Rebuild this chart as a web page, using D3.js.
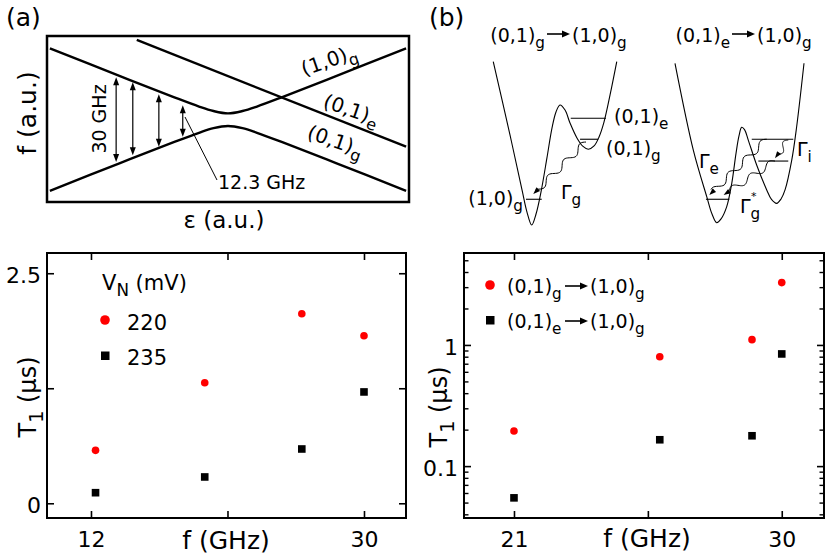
<!DOCTYPE html>
<html>
<head>
<meta charset="utf-8">
<script src="https://cdn.jsdelivr.net/npm/d3@7"></script>
<style>
body { margin: 0; background: #fff; }
svg text { font-family: "DejaVu Sans", "Liberation Sans", Arial, sans-serif; fill: #000; }
</style>
</head>
<body>
<div id="fig"></div>
<script>
// ---------- data ----------
// (a) level diagram, arbitrary units (eps 0..10, f 0..10)
var upperBranch = [[0.08,9.25],[2,7.60],[3.5,6.32],[4.2,5.75],[4.6,5.48],[5.0,5.34],[5.4,5.48],[5.8,5.75],[6.5,6.32],[8,7.60],[9.92,9.25]];
var lowerBranch = [[0.08,0.67],[2,2.33],[3.5,3.60],[4.2,4.17],[4.6,4.45],[5.0,4.58],[5.4,4.45],[5.8,4.17],[6.5,3.60],[8,2.33],[9.92,0.67]];
var excitedLine = [[2.48,9.76],[9.92,3.33]];
// gap arrows: eps, lower f, upper f
var gapArrows = [[1.91,2.41,7.51],[2.37,2.81,7.21],[3.09,3.33,6.49],[3.75,3.93,5.83]];

// (b) potentials, arbitrary units (x 0..10, energy 0..10)
var wellLeft = [[0.02,10.02],[1.37,5.55],[2.34,2.20],[2.74,0.85],[3.12,0.06],[3.47,0.73],[3.87,2.07],[4.35,4.15],[4.76,5.98],[5.08,6.95],[5.40,7.38],[5.81,7.07],[6.21,6.28],[6.77,5.37],[7.26,4.85],[7.69,4.68],[8.15,4.88],[8.55,5.43],[8.95,6.34],[9.44,7.99],[9.98,10.02]];
var levelsLeft = [[6.27,9.11,6.57],[7.02,8.49,5.29],[2.66,3.93,1.63]];
var decayLeft = [[7.5,5.12,3.25,1.95]];
var wellRight = [[0,9.92],[1.42,4.63],[2.46,1.79],[2.87,0.73],[3.23,0.20],[3.57,0.43],[4.01,1.18],[4.40,2.60],[4.73,4.43],[4.96,5.49],[5.17,6.02],[5.39,5.88],[5.68,5.24],[6.33,3.72],[7.11,2.20],[7.48,1.62],[7.88,1.38],[8.22,1.65],[8.53,2.20],[9.05,4.02],[9.43,6.05],[10,9.92]];
var levelsRight = [[5.95,9.17,5.29],[6.46,8.78,3.96],[2.40,4.21,1.63]];
var decayRight = [[7.11,5.29,2.66,1.89],[7.75,3.96,3.77,1.89],[8.78,5.24,7.75,4.13]];

// (c) T1 vs f, linear
var freqC = [12.3, 19.5, 25.9, 30];
var t1C220 = [0.575, 1.31, 2.06, 1.82];
var t1C235 = [0.115, 0.286, 0.59, 1.21];
var xTicksC = [12, 21, 30];
var yTicksC = [0, 1.25, 2.5];

// (d) T1 vs f, log
var freqD = [21, 25.9, 29.0, 30];
var t1Dg = [0.195, 0.80, 1.106, 3.27];
var t1De = [0.0547, 0.165, 0.178, 0.843];
var xTicksD = [21, 25.5, 30];
var yMajorD = [0.1, 1];
var yMinorD = [0.04,0.05,0.06,0.07,0.08,0.09,0.2,0.3,0.4,0.5,0.6,0.7,0.8,0.9,2,3,4,5];

var svg = d3.select("#fig").append("svg")
    .attr("width", 831)
    .attr("height", 557);

// ---------- helpers ----------
function rich(parent, parts, fs) {
    var t = parent.append("text").attr("font-size", fs);
    var shift = 0;
    parts.forEach(function(p) {
        var sub = p.charAt(0) === "_";
        var target = sub ? 0.3 * fs : 0;
        var ts = t.append("tspan").attr("dy", target - shift).text(sub ? p.slice(1) : p);
        if (sub) ts.attr("font-size", fs * 0.8);
        shift = target;
    });
    return t;
}

function head(g, tip, ux, uy, len, w) {
    var bx = tip[0] - ux * len, by = tip[1] - uy * len;
    g.append("path")
        .attr("d", "M" + tip[0] + "," + tip[1] +
            "L" + (bx - uy * w / 2) + "," + (by + ux * w / 2) +
            "L" + (bx + uy * w / 2) + "," + (by - ux * w / 2) + "Z")
        .attr("fill", "#000");
}

function straightArrow(g, x0, x1, y) {
    g.append("line").attr("x1", x0).attr("x2", x1 - 6).attr("y1", y).attr("y2", y)
        .attr("stroke", "#000").attr("stroke-width", 1.6);
    head(g, [x1, y], 1, 0, 8, 7);
}

function wavy(g, p0, p1, periods, amp) {
    var dx = p1[0] - p0[0], dy = p1[1] - p0[1], L = Math.hypot(dx, dy);
    var ux = dx / L, uy = dy / L, stop = (L - 5) / L;
    var pts = [];
    for (var i = 0; i <= 60; i++) {
        var t = i / 60 * stop;
        var s = amp * Math.sin(2 * Math.PI * periods * t / stop);
        pts.push([p0[0] + dx * t - uy * s, p0[1] + dy * t + ux * s]);
    }
    g.append("path").attr("d", d3.line()(pts))
        .attr("fill", "none").attr("stroke", "#000").attr("stroke-width", 1);
    head(g, p1, ux, uy, 7, 5);
}

// ---------- (a) ----------
var xA = d3.scaleLinear().domain([0, 10]).range([47, 409]);
var yA = d3.scaleLinear().domain([0, 10]).range([202, 36]);
var gA = svg.append("g");

gA.append("rect").attr("x", 47).attr("y", 36).attr("width", 362).attr("height", 166)
    .attr("fill", "none").attr("stroke", "#000").attr("stroke-width", 2.5);

var lineA = d3.line()
    .x(function(d) { return xA(d[0]); })
    .y(function(d) { return yA(d[1]); })
    .curve(d3.curveCatmullRom);

[upperBranch, lowerBranch, excitedLine].forEach(function(b) {
    gA.append("path").datum(b).attr("d", lineA)
        .attr("fill", "none").attr("stroke", "#000").attr("stroke-width", 2.4);
});

gapArrows.forEach(function(a) {
    var x = xA(a[0]), top = yA(a[2]), bot = yA(a[1]);
    gA.append("line").attr("x1", x).attr("x2", x).attr("y1", top + 5).attr("y2", bot - 5)
        .attr("stroke", "#000").attr("stroke-width", 1.2);
    head(gA, [x, top], 0, -1, 8, 6);
    head(gA, [x, bot], 0, 1, 8, 6);
});

gA.append("line").attr("x1", 185).attr("y1", 117).attr("x2", 217).attr("y2", 180)
    .attr("stroke", "#000").attr("stroke-width", 1);
gA.append("text").attr("x", 218).attr("y", 189).attr("font-size", 19).text("12.3 GHz");
gA.append("text").attr("transform", "translate(106,119) rotate(-90)")
    .attr("text-anchor", "middle").attr("font-size", 19).text("30 GHz");

rich(gA, ["(1,0)", "_g"], 20).attr("transform", "translate(304,76) rotate(-19)");
rich(gA, ["(0,1)", "_e"], 20).attr("transform", "translate(322,107) rotate(19)");
rich(gA, ["(0,1)", "_g"], 20).attr("transform", "translate(306,138) rotate(19)");

gA.append("text").attr("transform", "translate(36,113) rotate(-90)")
    .attr("text-anchor", "middle").attr("font-size", 25).text("f (a.u.)");
gA.append("text").attr("x", 224).attr("y", 228)
    .attr("text-anchor", "middle").attr("font-size", 23).text("\u03b5 (a.u.)");
gA.append("text").attr("x", 6).attr("y", 26).attr("font-size", 25).text("(a)");

// ---------- (b) ----------
var gB = svg.append("g");
gB.append("text").attr("x", 429).attr("y", 26).attr("font-size", 25).text("(b)");

function drawWell(well, levels, decays, x0, x1) {
    var xs = d3.scaleLinear().domain([0, 10]).range([x0, x1]);
    var ys = d3.scaleLinear().domain([0, 10]).range([226, 62]);
    gB.append("path").datum(well)
        .attr("d", d3.line().x(function(d) { return xs(d[0]); }).y(function(d) { return ys(d[1]); })
            .curve(d3.curveCatmullRom))
        .attr("fill", "none").attr("stroke", "#000").attr("stroke-width", 1.1);
    levels.forEach(function(l) {
        gB.append("line").attr("x1", xs(l[0])).attr("x2", xs(l[1]))
            .attr("y1", ys(l[2])).attr("y2", ys(l[2]))
            .attr("stroke", "#000").attr("stroke-width", 1.1);
    });
    decays.forEach(function(d) {
        var p0 = [xs(d[0]), ys(d[1])], p1 = [xs(d[2]), ys(d[3])];
        var L = Math.hypot(p1[0] - p0[0], p1[1] - p0[1]);
        wavy(gB, p0, p1, Math.max(1, L / 24), 3.2);
    });
}
drawWell(wellLeft, levelsLeft, decayLeft, 493, 617);
drawWell(wellRight, levelsRight, decayRight, 675, 804);

// titles
rich(gB, ["(0,1)", "_g"], 19).attr("x", 545).attr("y", 42).attr("text-anchor", "end");
straightArrow(gB, 547, 570, 34);
rich(gB, ["(1,0)", "_g"], 19).attr("x", 572).attr("y", 42);
rich(gB, ["(0,1)", "_e"], 19).attr("x", 730).attr("y", 42).attr("text-anchor", "end");
straightArrow(gB, 732, 755, 34);
rich(gB, ["(1,0)", "_g"], 19).attr("x", 757).attr("y", 42);

// level and rate labels
rich(gB, ["(0,1)", "_e"], 19).attr("x", 614).attr("y", 123);
rich(gB, ["(0,1)", "_g"], 19).attr("x", 606).attr("y", 155);
rich(gB, ["(1,0)", "_g"], 19).attr("x", 523).attr("y", 205).attr("text-anchor", "end");
rich(gB, ["\u0393", "_g"], 19).attr("x", 561).attr("y", 199);
rich(gB, ["\u0393", "_e"], 19).attr("x", 699).attr("y", 168);
rich(gB, ["\u0393", "_i"], 19).attr("x", 797).attr("y", 156);
rich(gB, ["\u0393", "_g"], 19).attr("x", 740).attr("y", 213);
gB.append("text").attr("x", 751).attr("y", 200).attr("font-size", 11).text("*");

// ---------- plot helpers ----------
function frameAxes(g, x, y, box, xTicks, yTicks, xFmt, yFmt) {
    var fs = 22;
    var bottom = g.append("g").attr("transform", "translate(0," + box.y1 + ")")
        .call(d3.axisBottom(x).tickValues(xTicks).tickSize(-7).tickPadding(13).tickFormat(xFmt));
    var top = g.append("g").attr("transform", "translate(0," + box.y0 + ")")
        .call(d3.axisTop(x).tickValues(xTicks).tickSize(-7).tickFormat(""));
    var left = g.append("g").attr("transform", "translate(" + box.x0 + ",0)")
        .call(d3.axisLeft(y).tickValues(yTicks).tickSize(-7).tickPadding(6).tickFormat(yFmt));
    var right = g.append("g").attr("transform", "translate(" + box.x1 + ",0)")
        .call(d3.axisRight(y).tickValues(yTicks).tickSize(-7).tickFormat(""));
    [bottom, top, left, right].forEach(function(a) {
        a.attr("font-size", fs);
        a.select(".domain").remove();
        a.selectAll(".tick line").attr("stroke-width", 1.6);
    });
    left.selectAll("text").attr("dy", "0.42em");
    g.append("rect").attr("x", box.x0).attr("y", box.y0)
        .attr("width", box.x1 - box.x0).attr("height", box.y1 - box.y0)
        .attr("fill", "none").attr("stroke", "#000").attr("stroke-width", 2);
}

function yTitle(g, x, y) {
    var t = rich(g, ["T", "_1", " (\u03bcs)"], 24);
    t.attr("transform", "translate(" + x + "," + y + ") rotate(-90)").attr("text-anchor", "middle");
}

// ---------- (c) ----------
var boxC = {x0: 47, x1: 406, y0: 253, y1: 518};
var xC = d3.scaleLinear().domain([9.1, 32.77]).range([boxC.x0, boxC.x1]);
var yC = d3.scaleLinear().domain([-0.16, 2.72]).range([boxC.y1, boxC.y0]);
var gC = svg.append("g");

frameAxes(gC, xC, yC, boxC, xTicksC, yTicksC,
    function(d) { return d === 21 ? "" : d; },
    function(d) { return d === 1.25 ? "" : d; });

gC.selectAll("circle.p220").data(freqC).enter().append("circle")
    .attr("cx", function(d) { return xC(d); })
    .attr("cy", function(d, i) { return yC(t1C220[i]); })
    .attr("r", 3.8).attr("fill", "#ff0000");
gC.selectAll("rect.p235").data(freqC).enter().append("rect")
    .attr("x", function(d) { return xC(d) - 3.8; })
    .attr("y", function(d, i) { return yC(t1C235[i]) - 3.8; })
    .attr("width", 7.6).attr("height", 7.6).attr("fill", "#000");

rich(gC, ["V", "_N", " (mV)"], 21).attr("x", 102).attr("y", 290);
gC.append("circle").attr("cx", 105).attr("cy", 320).attr("r", 4.8).attr("fill", "#ff0000");
gC.append("text").attr("x", 127).attr("y", 330).attr("font-size", 21).text("220");
gC.append("rect").attr("x", 101).attr("y", 351.5).attr("width", 8.5).attr("height", 8.5).attr("fill", "#000");
gC.append("text").attr("x", 127).attr("y", 365).attr("font-size", 21).text("235");

gC.append("text").attr("x", 226).attr("y", 549).attr("text-anchor", "middle")
    .attr("font-size", 25).text("f (GHz)");
yTitle(gC, 36, 397);

// ---------- (d) ----------
var boxD = {x0: 464, x1: 824, y0: 253, y1: 518};
var xD = d3.scaleLinear().domain([19.32, 31.42]).range([boxD.x0, boxD.x1]);
var yD = d3.scaleLog().domain([0.0373, 5.74]).range([boxD.y1, boxD.y0]);
var gD = svg.append("g");

frameAxes(gD, xD, yD, boxD, xTicksD, yMajorD,
    function(d) { return d === 25.5 ? "" : d; },
    function(d) { return d; });

gD.append("g").attr("transform", "translate(" + boxD.x0 + ",0)")
    .call(d3.axisLeft(yD).tickValues(yMinorD).tickSize(-4.5).tickFormat(""))
    .call(function(a) { a.select(".domain").remove(); a.selectAll("line").attr("stroke-width", 1.4); });
gD.append("g").attr("transform", "translate(" + boxD.x1 + ",0)")
    .call(d3.axisRight(yD).tickValues(yMinorD).tickSize(-4.5).tickFormat(""))
    .call(function(a) { a.select(".domain").remove(); a.selectAll("line").attr("stroke-width", 1.4); });

gD.selectAll("circle.pg").data(freqD).enter().append("circle")
    .attr("cx", function(d) { return xD(d); })
    .attr("cy", function(d, i) { return yD(t1Dg[i]); })
    .attr("r", 3.8).attr("fill", "#ff0000");
gD.selectAll("rect.pe").data(freqD).enter().append("rect")
    .attr("x", function(d) { return xD(d) - 3.8; })
    .attr("y", function(d, i) { return yD(t1De[i]) - 3.8; })
    .attr("width", 7.6).attr("height", 7.6).attr("fill", "#000");

gD.append("circle").attr("cx", 490).attr("cy", 285).attr("r", 4.8).attr("fill", "#ff0000");
rich(gD, ["(0,1)", "_g"], 19).attr("x", 507).attr("y", 293);
straightArrow(gD, 565, 588, 286);
rich(gD, ["(1,0)", "_g"], 19).attr("x", 590).attr("y", 293);
gD.append("rect").attr("x", 486).attr("y", 316).attr("width", 8.5).attr("height", 8.5).attr("fill", "#000");
rich(gD, ["(0,1)", "_e"], 19).attr("x", 507).attr("y", 328);
straightArrow(gD, 565, 588, 321);
rich(gD, ["(1,0)", "_g"], 19).attr("x", 590).attr("y", 328);

gD.append("text").attr("x", 647).attr("y", 547).attr("text-anchor", "middle")
    .attr("font-size", 25).text("f (GHz)");
yTitle(gD, 447, 407);
</script>
</body>
</html>
